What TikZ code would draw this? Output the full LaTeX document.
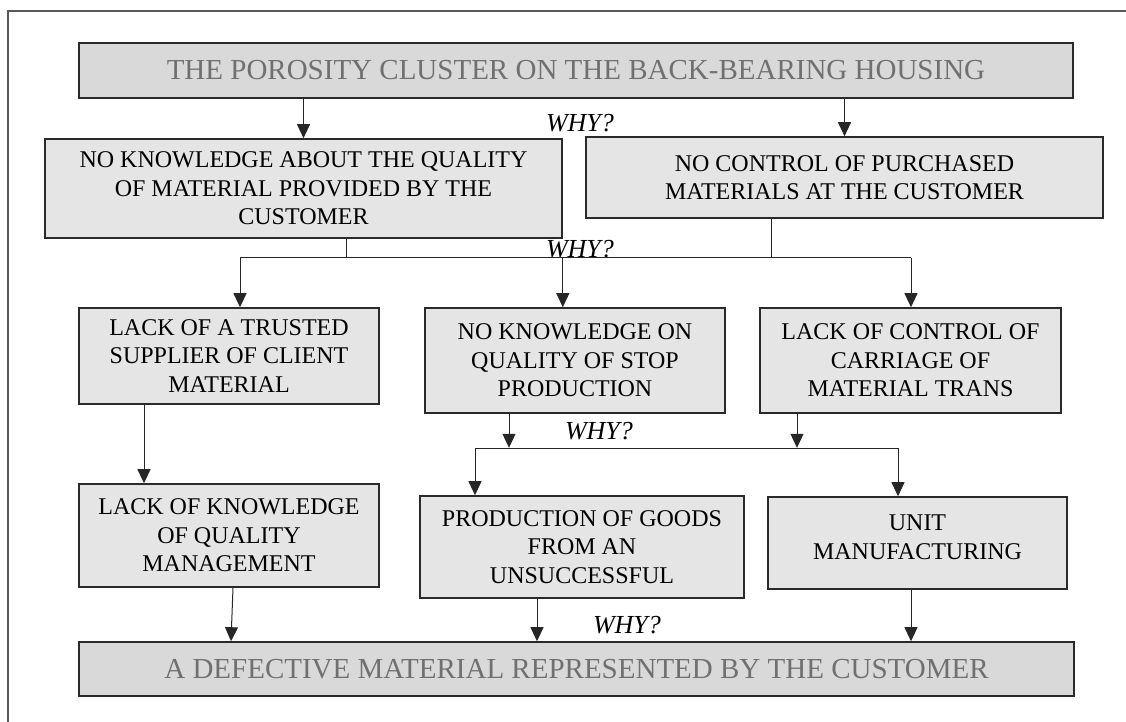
\documentclass[tikz,border=0pt]{standalone}
\usepackage{fontspec}
\setmainfont{Liberation Serif}
\usepackage{xcolor}
\usetikzlibrary{positioning,calc,arrows.meta}

\definecolor{headfill}{HTML}{D9D9D9}
\definecolor{headtext}{HTML}{707070}
\definecolor{causefill}{HTML}{E5E5E5}
\definecolor{boxline}{HTML}{2A2A2A}

\begin{document}
\begin{tikzpicture}[
        x=0.5pt, y=-0.5pt,
        % Style for the problem / result boxes
        headbox/.style={
            rectangle,
            draw=boxline,
            fill=headfill,
            text=headtext,
            line width=0.8pt,
            inner sep=0pt,
            font=\fontsize{14.5}{17}\selectfont
        },
        % Style for the cause boxes
        causebox/.style={
            rectangle,
            draw=boxline,
            fill=causefill,
            text=black,
            line width=0.8pt,
            inner sep=0pt,
            align=center,
            font=\fontsize{12}{14.3}\selectfont
        },
        % Style for the question labels
        whylabel/.style={
            inner sep=0pt,
            font=\fontsize{13}{15}\selectfont\itshape
        },
        % Connector styles
        line/.style={
            draw=black!85,
            line width=0.5pt
        },
        arr/.style={
            line,
            -{Triangle[length=7pt,width=6.5pt]}
        }
    ]

        \useasboundingbox (0,0) rectangle (1126,722);

        % --- FRAME ---
        \draw[draw=black!65, line width=0.6pt] (8,722) -- (8,11) -- (1126,11);

        % --- BOXES ---
        % Problem
        \node[headbox, minimum width=497pt, minimum height=27.5pt] (top) at (576,70.5)
            {THE POROSITY CLUSTER ON THE BACK-BEARING HOUSING};

        % First level
        \node[causebox, minimum width=258.5pt, minimum height=49.5pt] (L1) at (303.5,188.5)
            {NO KNOWLEDGE ABOUT THE QUALITY\\OF MATERIAL PROVIDED BY THE\\CUSTOMER};
        \node[causebox, minimum width=258.5pt, minimum height=40.5pt] (R1) at (844.5,177.5)
            {NO CONTROL OF PURCHASED\\MATERIALS AT THE CUSTOMER};

        % Second level
        \node[causebox, minimum width=150pt, minimum height=48pt] (A) at (229,356)
            {LACK OF A TRUSTED\\SUPPLIER OF CLIENT\\MATERIAL};
        \node[causebox, minimum width=150pt, minimum height=52.5pt] (B) at (575,360.5)
            {NO KNOWLEDGE ON\\QUALITY OF STOP\\PRODUCTION};
        \node[causebox, minimum width=150.5pt, minimum height=52.5pt] (C) at (910.5,360.5)
            {LACK OF CONTROL OF\\CARRIAGE OF\\MATERIAL TRANS};

        % Third level
        \node[causebox, minimum width=150pt, minimum height=51.5pt] (D) at (229,535.5)
            {LACK OF KNOWLEDGE\\OF QUALITY\\MANAGEMENT};
        \node[causebox, minimum width=162pt, minimum height=51pt] (E) at (582,547)
            {PRODUCTION OF GOODS\\FROM AN\\UNSUCCESSFUL};
        \node[causebox, minimum width=149.5pt, minimum height=46pt, text depth=6pt] (F) at (917.5,543)
            {UNIT\\MANUFACTURING};

        % Result
        \node[headbox, minimum width=497.5pt, minimum height=27pt] (G) at (576.5,669)
            {A DEFECTIVE MATERIAL REPRESENTED BY THE CUSTOMER};

        % --- WHY? LABELS ---
        \node[whylabel] (why1) at (580,123) {WHY?};
        \node[whylabel] (why2) at (580,249) {WHY?};
        \node[whylabel] (why3) at (599,431) {WHY?};
        \node[whylabel] (why4) at (627,625) {WHY?};

        % --- CONNECTORS ---
        % Problem to first level
        \draw[arr] (top.south -| L1.north) -- (L1.north);
        \draw[arr] (top.south -| R1.north) -- (R1.north);

        % First level to second level
        \coordinate (b1) at (240,258);
        \coordinate (b1r) at (911,258);
        \draw[line] ($(L1.south)+(42.5,0)$) |- (b1);
        \draw[line] ($(R1.south)+(-73.5,0)$) |- (b1r);
        \draw[line] (b1) -- (b1r);
        \draw[arr] (b1) -- (b1 |- A.north);
        \draw[arr] (L1.south east |- b1) -- (L1.south east |- B.north);
        \draw[arr] (b1r) -- (b1r |- C.north);

        % Second level to third level
        \draw[arr] ($(A.south)+(-85,0)$) -- ($(D.north)+(-85,0)$);
        \coordinate (b2) at (475,448);
        \coordinate (b2r) at (898,448);
        \draw[arr] ($(B.south)+(-66,0)$) -- ++(0,34);
        \draw[arr] ($(C.south)+(-113.5,0)$) -- ++(0,34);
        \draw[line] (b2) -- (b2r);
        \draw[arr] (b2) -- (b2 |- E.north);
        \draw[arr] (b2r) -- (b2r |- F.north);

        % Third level to result
        \draw[arr] ($(D.south)+(4,0)$) -- ($(G.north)+(-345.5,0)$);
        \draw[arr] ($(E.south)+(-45,0)$) -- ($(G.north)+(-39.5,0)$);
        \draw[arr] ($(F.south)+(-6.5,0)$) -- ($(G.north)+(334.5,0)$);

    \end{tikzpicture}
\end{document}
